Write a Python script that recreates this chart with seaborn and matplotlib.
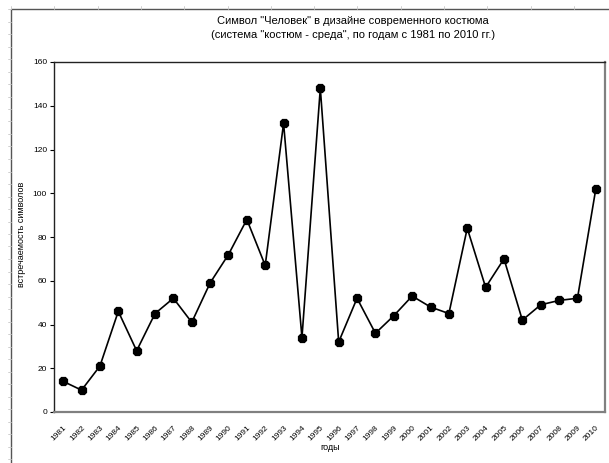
import matplotlib
matplotlib.use("Agg")
import matplotlib.pyplot as plt
import seaborn as sns
import pandas as pd
from matplotlib.lines import Line2D

years = [str(y) for y in range(1981, 2011)]
counts = [14, 10, 21, 46, 28, 45, 52, 41, 59, 72, 88, 67, 132, 34, 148,
          32, 52, 36, 44, 53, 48, 45, 84, 57, 70, 42, 49, 51, 52, 102]
yticks = [0, 20, 40, 60, 80, 100, 120, 140, 160]

title = ('Символ "Человек" в дизайне современного костюма\n'
         '(система "костюм - среда", по годам с 1981 по 2010 гг.)')
xlabel = "годы"
ylabel = "встречаемость символов"

sns.set_theme(style="white")
plt.rcParams["font.family"] = ["Liberation Sans", "DejaVu Sans"]
plt.rcParams["text.color"] = "black"
plt.rcParams["xtick.color"] = "black"
plt.rcParams["ytick.color"] = "black"

df = pd.DataFrame({"year": years, "count": counts})

fig = plt.figure(figsize=(6.09, 4.63), dpi=100)
ax = fig.add_axes([54 / 609, 1 - 412 / 463, (605 - 54) / 609, (412 - 62) / 463])

sns.pointplot(data=df, x="year", y="count", color="black", marker="8",
              markersize=7, linewidth=1.2, errorbar=None, ax=ax)

ax.set_xlim(-0.5, len(years) - 0.5)
ax.set_ylim(0, 160)
ax.set_yticks(yticks)
ax.tick_params(axis="y", left=True, length=3, width=0.8, labelsize=6, pad=2)
ax.tick_params(axis="x", bottom=False, labelsize=6, pad=3)
for lab in ax.get_xticklabels():
    lab.set_rotation(45)
    lab.set_ha("right")
    lab.set_rotation_mode("anchor")
ax.set_xlabel("")
ax.set_ylabel("")

for side in ["top", "left"]:
    ax.spines[side].set_color("#222222")
    ax.spines[side].set_linewidth(1.0)
for side in ["right", "bottom"]:
    ax.spines[side].set_color("#808080")
    ax.spines[side].set_linewidth(1.6)

fig.text(353 / 609, 1 - 28 / 463, title, ha="center", va="center",
         fontsize=8, linespacing=1.45)
fig.text(330 / 609, 1 - 448 / 463, xlabel, ha="center", va="center", fontsize=6.5)
fig.text(22 / 609, 1 - 234 / 463, ylabel, ha="center", va="center",
         rotation=90, fontsize=6.5)

# outer chart frame (cut by the image edges)
fx, fy = 11 / 609, 1 - 9 / 463
fig.add_artist(Line2D([fx, fx], [0, fy], color="#555555", lw=1.0))
fig.add_artist(Line2D([fx, 1], [fy, fy], color="#555555", lw=1.0))
for i in range(14):
    x = (11 + 43.3 * i) / 609
    fig.add_artist(Line2D([x, x], [fy, fy + 3 / 463], color="#c8c8c8", lw=0.6))
for i in range(37):
    y = 1 - (9 + 12.5 * i) / 463
    fig.add_artist(Line2D([fx - 3 / 609, fx], [y, y], color="#c8c8c8", lw=0.6))

fig.savefig("out.png", dpi=100)
